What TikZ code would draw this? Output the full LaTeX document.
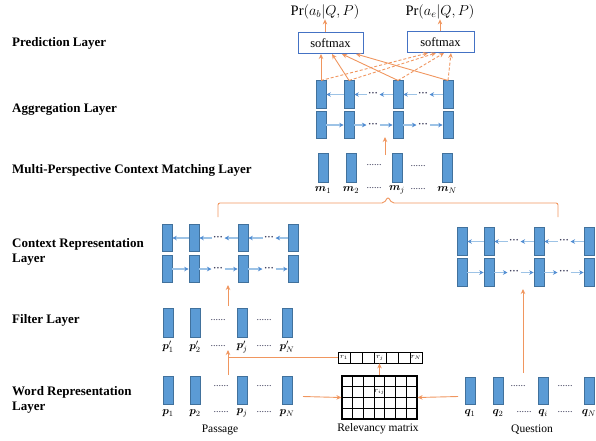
\documentclass[tikz,border=0pt]{standalone}
\usepackage{fontspec}
\setmainfont{Liberation Serif}
\usepackage{bm}
\usetikzlibrary{arrows.meta}
\definecolor{barfill}{RGB}{91,155,213}
\definecolor{bardraw}{RGB}{65,113,156}
\definecolor{org}{RGB}{240,150,95}
\definecolor{lblue}{RGB}{157,195,230}
\definecolor{mblue}{RGB}{80,140,210}
\definecolor{sboxc}{RGB}{68,114,196}
\definecolor{dotc}{RGB}{60,60,90}
\newcommand{\birow}[9]{%
  \foreach \i/\xx in {1/#2,2/#3,3/#4,4/#5}{%
    \node[bar] (#1u\i) at (\xx,#8) {};
    \node[bar] (#1l\i) at (\xx,#9) {};
  }
  \node[rdots] (#1ud1) at (#6,#8) {···};
  \node[rdots] (#1ud2) at (#7,#8) {···};
  \node[rdots] (#1ld1) at (#6,#9) {···};
  \node[rdots] (#1ld2) at (#7,#9) {···};
  \draw[rowarr] (#1u2) -- (#1u1);
  \draw[rowarr] (#1ud1) -- (#1u2);
  \draw[rowarr] (#1u3) -- (#1ud1);
  \draw[rowarr] (#1ud2) -- (#1u3);
  \draw[rowarr] (#1u4) -- (#1ud2);
  \draw[rowarr] (#1l1) -- (#1l2);
  \draw[rowarr] (#1l2) -- (#1ld1);
  \draw[rowarr] (#1ld1) -- (#1l3);
  \draw[rowarr] (#1l3) -- (#1ld2);
  \draw[rowarr] (#1ld2) -- (#1l4);
}
\begin{document}
\begin{tikzpicture}[x=1pt,y=-1pt,
  bar/.style={draw=bardraw, fill=barfill, line width=0.6, minimum width=10, minimum height=27.5, inner sep=0},
  tbar/.style={bar, minimum height=29},
  rowarr/.style={draw=lblue, line width=1.2, -{Stealth[length=4.5,width=4.5,color=mblue]}},
  rdots/.style={inner sep=0, outer sep=1.5, font=\fontsize{10}{10}\selectfont\bfseries, text=dotc},
  ldots/.style={inner sep=0, font=\fontsize{10}{10}\selectfont, text=dotc},
  oarr/.style={draw=org, line width=0.9, -{Stealth[length=5,width=4.5]}},
  odarr/.style={oarr, dashed, dash pattern=on 3pt off 2pt},
  oline/.style={draw=org, line width=0.9},
  lab/.style={anchor=west, align=left, inner sep=0, font=\fontsize{13}{15.5}\selectfont\bfseries},
  sbox/.style={draw=sboxc, line width=0.9, minimum height=21, inner sep=0, font=\fontsize{12.5}{12.5}\selectfont},
  vlab/.style={inner sep=0, font=\fontsize{11}{11}\selectfont},
  captxt/.style={inner sep=0, font=\fontsize{11.5}{12}\selectfont},
  cell/.style={draw, line width=0.8, minimum width=12, minimum height=11, inner sep=0, font=\fontsize{7}{7}\selectfont}
]
\useasboundingbox (0,0) rectangle (596,440);

% layer labels
\node[lab] (lpred) at (12,43) {Prediction Layer};
\node[lab] (lagg) at (12,109) {Aggregation Layer};
\node[lab] (lmp) at (12,170) {Multi-Perspective Context Matching Layer};
\node[lab] (lctx) at (12,252) {Context Representation\\Layer};
\node[lab] (lfil) at (12,320) {Filter Layer};
\node[lab] (lword) at (12,400) {Word Representation\\Layer};

% prediction layer
\node[inner sep=0, font=\fontsize{14.5}{15}\selectfont] (pr1) at (325,12) {$\Pr(a_b|Q,P)$};
\node[inner sep=0, font=\fontsize{14.5}{15}\selectfont] (pr2) at (440,12) {$\Pr(a_e|Q,P)$};
\node[sbox, minimum width=65] (sm1) at (330.5,43) {softmax};
\node[sbox, minimum width=67] (sm2) at (440.5,42) {softmax};
\draw[oarr] (sm1.north -| pr1) -- (pr1);
\draw[oarr] (sm2.north -| pr2) -- (pr2);

% aggregation layer
\birow{A}{321}{349}{398}{448}{373}{423}{94.5}{125}

% connections aggregation -> softmax
\coordinate (s1a) at (321,54);
\coordinate (s1b) at (332,54);
\coordinate (s1c) at (342,54);
\coordinate (s1d) at (356,54);
\coordinate (s2a) at (428,53);
\coordinate (s2b) at (436,53);
\coordinate (s2c) at (444,53);
\coordinate (s2d) at (451,53);
\draw[oarr] (Au1.north) -- (s1a);
\draw[oarr] (Au2.north) -- (s1b);
\draw[oarr] (Au3.north) -- (s1c);
\draw[oarr] (Au4.north) -- (s1d);
\draw[odarr] (Au1.north) -- (s2a);
\draw[odarr] (Au2.north) -- (s2b);
\draw[odarr] (Au3.north) -- (s2c);
\draw[odarr] (Au4.north) -- (s2d);

% multi-perspective matching layer
\node[tbar] (m1) at (323,167.5) {};
\node[tbar] (m2) at (351,167.5) {};
\node[tbar] (m3) at (397,167.5) {};
\node[tbar] (m4) at (447,167.5) {};
\node[vlab] (lm1) at (323,190) {$\bm{m}_1$};
\node[vlab] (lm2) at (351,190) {$\bm{m}_2$};
\node[vlab] (lm3) at (397,190) {$\bm{m}_j$};
\node[vlab] (lm4) at (447,190) {$\bm{m}_N$};
\node[ldots] (md1) at (374,165) {......};
\node[ldots] (md2) at (418,166) {......};
\node[ldots] (md3) at (374,188) {......};
\node[ldots] (md4) at (418,189) {......};
\coordinate (mpt) at (385,155);
\coordinate (agin) at (385,137);
\draw[oarr] (mpt) -- (agin);

% brace over context representations
\coordinate (bl) at (218,217);
\coordinate (br) at (558,217);
\coordinate (bt) at (388,197);
\draw[oline, rounded corners=2] (bl) -- (218,203) -- (384,203) -- (bt) -- (392,203) -- (558,203) -- (br);

% context representation layers
\birow{C}{167}{194}{243}{293}{218}{269}{238}{269}
\birow{Q}{462}{489}{539}{589}{514}{564}{241.5}{272.5}

% filter layer
\node[tbar] (f1) at (168,322.5) {};
\node[tbar] (f2) at (195,322.5) {};
\node[tbar] (f3) at (242,322.5) {};
\node[tbar] (f4) at (287,322.5) {};
\node[vlab] (lf1) at (168,347) {$\bm{p}'_1$};
\node[vlab] (lf2) at (195,347) {$\bm{p}'_2$};
\node[vlab] (lf3) at (242,347) {$\bm{p}'_j$};
\node[vlab] (lf4) at (287,347) {$\bm{p}'_N$};
\node[ldots] (fd1) at (218,320) {......};
\node[ldots] (fd2) at (264,320) {......};
\node[ldots] (fd3) at (218,346) {......};
\node[ldots] (fd4) at (264,346) {......};
\coordinate (ff) at (228,306);
\coordinate (cin) at (228,285);
\draw[oarr] (ff) -- (cin);

% word representation: passage
\node[bar] (p1) at (168,390.5) {};
\node[bar] (p2) at (195,390.5) {};
\node[bar] (p3) at (242,390.5) {};
\node[bar] (p4) at (287,390.5) {};
\node[vlab] (lp1) at (168,413) {$\bm{p}_1$};
\node[vlab] (lp2) at (195,413) {$\bm{p}_2$};
\node[vlab] (lp3) at (242,413) {$\bm{p}_j$};
\node[vlab] (lp4) at (287,413) {$\bm{p}_N$};
\node[ldots] (pd1) at (221,386) {......};
\node[ldots] (pd2) at (264,386) {......};
\node[ldots] (pd3) at (221,412) {......};
\node[ldots] (pd4) at (264,412) {......};
\node[captxt] (passage) at (220,430) {Passage};

% word representation: question
\node[bar] (q1) at (470,391) {};
\node[bar] (q2) at (498,391) {};
\node[bar] (q3) at (543,391) {};
\node[bar] (q4) at (589,391) {};
\node[vlab] (lq1) at (470,413) {$\bm{q}_1$};
\node[vlab] (lq2) at (498,413) {$\bm{q}_2$};
\node[vlab] (lq3) at (543,413) {$\bm{q}_i$};
\node[vlab] (lq4) at (589,413) {$\bm{q}_N$};
\node[ldots] (qd1) at (518,386) {......};
\node[ldots] (qd2) at (565,386) {......};
\node[ldots] (qd3) at (524,412) {......};
\node[ldots] (qd4) at (565,412) {......};
\node[captxt] (question) at (532,430) {Question};
\coordinate (qs) at (523,373);
\coordinate (qin) at (523,289);
\draw[oarr] (qs) -- (qin);

% relevancy vector
\foreach \k in {1,...,7}{\node[cell] (v\k) at ({332+12*\k},357.5) {};}
\node[inner sep=0, font=\fontsize{7.5}{7.5}\selectfont] at (v1) {$r_1$};
\node[inner sep=0, font=\fontsize{7.5}{7.5}\selectfont] at (v4) {$r_j$};
\node[inner sep=0, font=\fontsize{7.5}{7.5}\selectfont] at (v7) {$r_N$};

% relevancy matrix
\node[draw, line width=1.1, minimum width=75, minimum height=43, inner sep=0] (mat) at (379.5,397.5) {};
\foreach \c in {1,...,6}{\draw[line width=1.1] ({342+\c*75/7},376) -- ({342+\c*75/7},419);}
\foreach \r in {1,2,3}{\draw[line width=1.1] (342,{376+\r*43/4}) -- (417,{376+\r*43/4});}
\node[inner sep=0, font=\fontsize{7.5}{7.5}\selectfont] (rij) at ({342+3.5*75/7},{376+1.5*43/4}) {$r_{ij}$};
\node[captxt] (relm) at (378,429) {Relevancy matrix};

% connections around relevancy
\coordinate (pout) at (303,396.5);
\coordinate (qout) at (458,396.5);
\draw[oarr] (pout) -- (mat.west);
\draw[oarr] (qout) -- (mat.east);
\draw[oarr] (mat.north) -- (mat.north |- v4.south);
\coordinate (hj) at (228,357.5);
\coordinate (wj) at (228,375);
\coordinate (fj) at (228,350);
\draw[oline] (v1.west) -- (hj);
\draw[oarr] (wj) -- (fj);
\end{tikzpicture}
\end{document}
